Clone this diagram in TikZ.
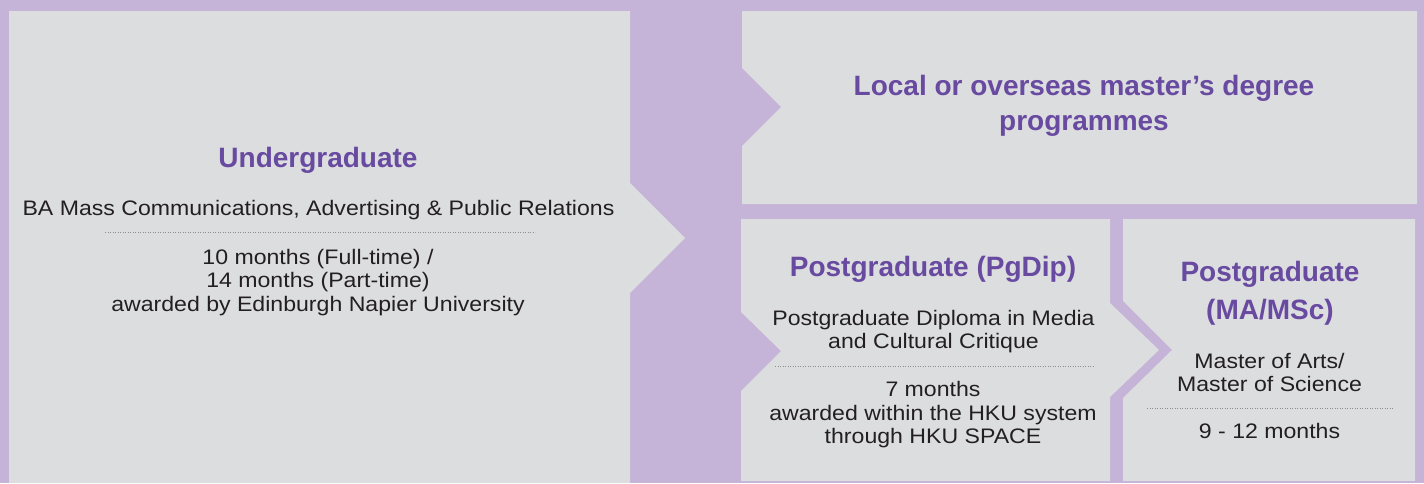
\documentclass[tikz,border=0pt]{standalone}
\usepackage{fontspec}
\setmainfont{Liberation Sans}
\newfontfamily\bodyfont{Liberation Sans}[FakeStretch=1.1]
\definecolor{bandpurple}{RGB}{197,179,216}
\definecolor{panelgrey}{RGB}{220,221,223}
\definecolor{headpurple}{RGB}{104,74,160}
\definecolor{bodyblack}{RGB}{35,31,32}

\begin{document}
\begin{tikzpicture}[x=1pt,y=-1pt,
  panel/.style={fill=panelgrey},
  heading/.style={text=headpurple,font=\fontsize{28}{35}\selectfont\bfseries,align=center,inner sep=0pt},
  body/.style={text=bodyblack,font=\bodyfont\fontsize{21}{23.5}\selectfont,align=center,inner sep=0pt},
  rule/.style={draw=gray!90,line width=0.8pt,dash pattern=on 0.8pt off 1.7pt}]
  \fill[bandpurple] (0,0) rectangle (1424,483);
  \useasboundingbox (0,0) rectangle (1424,483);

  \coordinate (a) at (9,11);
  \coordinate (b) at (630,11);
  \coordinate (c) at (630,183);
  \coordinate (d) at (685,238);
  \coordinate (e) at (630,293);
  \coordinate (f) at (630,483);
  \coordinate (g) at (9,483);

  \coordinate (h) at (742,11);
  \coordinate (i) at (1417,11);
  \coordinate (j) at (1417,204);
  \coordinate (k) at (742,204);
  \coordinate (l) at (742,146);
  \coordinate (m) at (781,107);
  \coordinate (n) at (742,68);

  \coordinate (o) at (741,219);
  \coordinate (p) at (1110,219);
  \coordinate (q) at (1110,303);
  \coordinate (r) at (1159,350);
  \coordinate (s) at (1110,397);
  \coordinate (t) at (1110,481);
  \coordinate (u) at (741,481);
  \coordinate (v) at (741,391);
  \coordinate (w) at (781,351);
  \coordinate (x) at (741,312);

  \coordinate (y) at (1123,219);
  \coordinate (z) at (1415,219);
  \coordinate (zz) at (1415,481);
  \coordinate (yy) at (1123,481);
  \coordinate (xx) at (1123,398);
  \coordinate (ww) at (1172,350);
  \coordinate (vv) at (1123,301);

  \fill[panel] (a) -- (b) -- (c) -- (d) -- (e) -- (f) -- (g) -- cycle;
  \fill[panel] (h) -- (i) -- (j) -- (k) -- (l) -- (m) -- (n) -- cycle;
  \fill[panel] (o) -- (p) -- (q) -- (r) -- (s) -- (t) -- (u) -- (v) -- (w) -- (x) -- cycle;
  \fill[panel] (y) -- (z) -- (zz) -- (yy) -- (xx) -- (ww) -- (vv) -- cycle;

  \node[heading,anchor=base] (ugtitle) at (318,167) {Undergraduate};
  \node[body,anchor=base] (ugprog) at (318.5,215) {BA Mass Communications, Advertising \& Public Relations};
  \coordinate (ugl) at (105,232);
  \coordinate (ugr) at (535,232);
  \draw[rule] (ugl) -- (ugr);
  \node[body] (ugterm) at (318,282.4) {10 months (Full-time) /\\14 months (Part-time)\\awarded by Edinburgh Napier University};

  \node[heading] (mstitle) at (1084,106) {Local or overseas master’s degree\\programmes};

  \node[heading,anchor=base] (pdtitle) at (933,276) {Postgraduate (PgDip)};
  \node[body] (pdprog) at (933.5,331.4) {Postgraduate Diploma in Media\\and Cultural Critique};
  \coordinate (pdl) at (775,366);
  \coordinate (pdr) at (1093,366);
  \draw[rule] (pdl) -- (pdr);
  \node[body] (pdterm) at (933,415) {7 months\\awarded within the HKU system\\through HKU SPACE};

  \node[heading,font=\fontsize{28}{38}\selectfont\bfseries] (matitle) at (1270,293.5) {Postgraduate\\(MA/MSc)};
  \node[body] (maprog) at (1269.5,372.5) {Master of Arts/\\Master of Science};
  \coordinate (mal) at (1147,408);
  \coordinate (mar) at (1393,408);
  \draw[rule] (mal) -- (mar);
  \node[body,anchor=base] (materm) at (1269.5,438) {9 - 12 months};
\end{tikzpicture}
\end{document}
